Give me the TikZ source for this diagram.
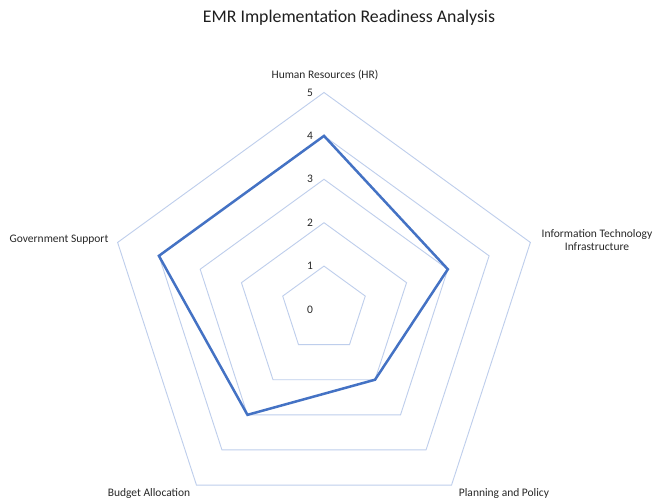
\documentclass[tikz,border=0pt]{standalone}
\usepackage{fontspec}
\setmainfont{Carlito}
\definecolor{gridblue}{RGB}{190,206,236}
\definecolor{seriesblue}{RGB}{68,114,196}
\definecolor{labelgray}{RGB}{40,40,40}
\definecolor{titlegray}{RGB}{30,30,30}
\begin{document}
\begin{tikzpicture}[x=1pt,y=1pt,
  grid/.style={draw=gridblue, line width=0.9pt, line join=miter},
  series/.style={draw=seriesblue, line width=2.5pt, line join=miter},
  lbl/.style={font=\fontsize{11.5}{13.5}\selectfont, text=labelgray, inner sep=0pt, align=center},
  ticklbl/.style={font=\fontsize{11.5}{13}\selectfont, text=labelgray, inner sep=0pt},
  ttl/.style={font=\fontsize{17.8}{20}\selectfont, text=titlegray, inner sep=0pt}]
\useasboundingbox[fill=white] (0,0) rectangle (654,501);
\node[ttl] (title) at (349,483) {EMR Implementation Readiness Analysis};
\begin{scope}[shift={(324,191.5)}]
  \foreach \r in {1,...,5}
    \draw[grid] (90:\r*43.4) -- (18:\r*43.4) -- (-54:\r*43.4) -- (-126:\r*43.4) -- (162:\r*43.4) -- cycle;
  \foreach \r in {0,...,5}
    \node[ticklbl] (t\r) at (-14,\r*43.4) {\r};
  \coordinate (pHR) at (90:4*43.4);
  \coordinate (pIT) at (18:3*43.4);
  \coordinate (pPP) at (-54:2*43.4);
  \coordinate (pBA) at (-126:3*43.4);
  \coordinate (pGS) at (162:4*43.4);
  \draw[series] (pHR) -- (pIT) -- (pPP) -- (pBA) -- (pGS) -- cycle;
\end{scope}
\node[lbl] (hr) at (325,426) {Human Resources (HR)};
\node[lbl] (it) at (597,261) {Information Technology\\Infrastructure};
\node[lbl] (pp) at (504,8) {Planning and Policy};
\node[lbl] (ba) at (149,8) {Budget Allocation};
\node[lbl] (gs) at (59,261) {Government Support};
\end{tikzpicture}
\end{document}
